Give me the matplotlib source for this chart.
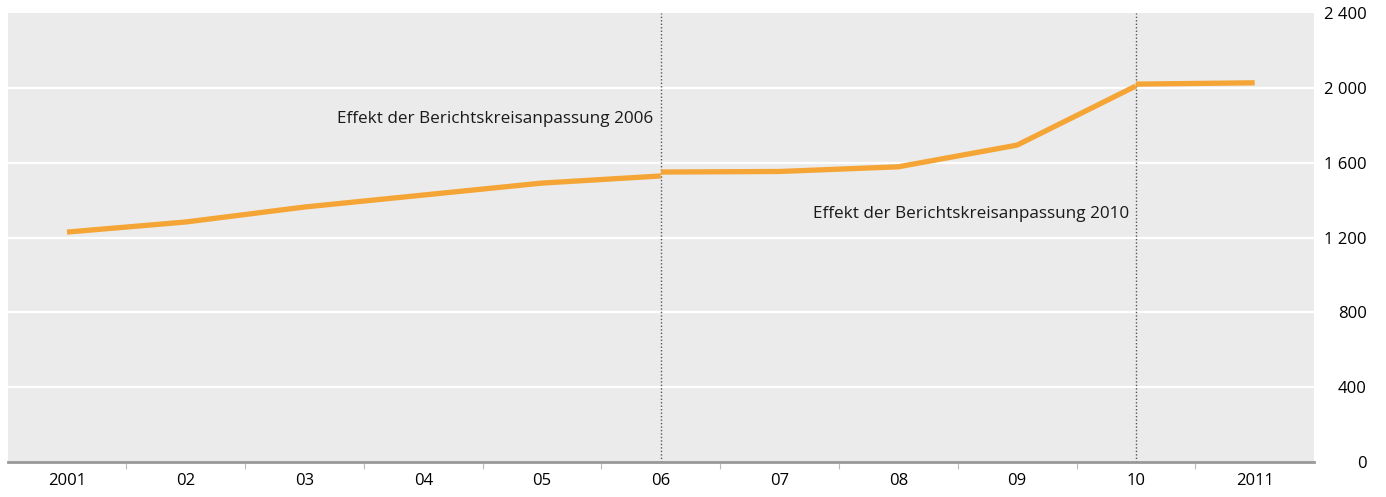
import matplotlib.pyplot as plt
from matplotlib.ticker import FuncFormatter, FixedLocator

plt.rcParams['font.family'] = ['Open Sans', 'DejaVu Sans']
plt.rcParams['font.size'] = 12

# Daten
labels = ['2001', '02', '03', '04', '05', '06', '07', '08', '09', '10', '2011']
seg1_x = [0, 1, 2, 3, 4, 5]
seg1_y = [1229, 1283, 1363, 1427, 1491, 1529]
seg2_x = [5, 6, 7, 8, 9]
seg2_y = [1550, 1553, 1578, 1694, 2010]
seg3_x = [9, 10]
seg3_y = [2020, 2027]
breaks = [5, 9]
notes = ['Effekt der Berichtskreisanpassung 2006', 'Effekt der Berichtskreisanpassung 2010']
note_y = [1835, 1325]

farbe = '#F4A535'

fig = plt.figure(figsize=(13.86, 4.97), dpi=100)
ax = fig.add_axes([0.0055, 0.0704, 0.9426, 0.9034])
ax.set_facecolor('#EBEBEB')

ax.set_xlim(-0.5, 10.5)
ax.set_ylim(0, 2400)

for y in [400, 800, 1200, 1600, 2000]:
    ax.axhline(y, color='white', linewidth=1.6, zorder=1)

for b in breaks:
    ax.axvline(b, color='#555555', linestyle=(0, (1, 1.5)), linewidth=1.0, zorder=2)

for xs, ys in [(seg1_x, seg1_y), (seg2_x, seg2_y), (seg3_x, seg3_y)]:
    ax.plot(xs, ys, color=farbe, linewidth=3.8, solid_capstyle='butt', zorder=3)

for b, t, y in zip(breaks, notes, note_y):
    ax.text(b - 0.06, y, t, ha='right', va='center', fontsize=12.3, color='#1a1a1a')

for s in ['top', 'left', 'right']:
    ax.spines[s].set_visible(False)
ax.spines['bottom'].set_color('#999999')
ax.spines['bottom'].set_linewidth(2)

ax.xaxis.set_major_locator(FixedLocator([i + 0.5 for i in range(10)]))
ax.xaxis.set_major_formatter(FuncFormatter(lambda v, p: ''))
ax.set_xticks(range(11), labels, minor=True)
ax.tick_params(axis='x', which='major', length=5, width=0.8, color='#BBBBBB')
ax.tick_params(axis='x', which='minor', length=0, pad=8, labelsize=12)

ax.yaxis.tick_right()
ax.set_yticks([0, 400, 800, 1200, 1600, 2000, 2400])
ax.yaxis.set_major_formatter(FuncFormatter(lambda v, p: f'{int(v):,}'.replace(',', ' ')))
ax.tick_params(axis='y', length=0, labelsize=12, pad=38)
for lab in ax.get_yticklabels():
    lab.set_horizontalalignment('right')

fig.savefig('out.png', dpi=100, facecolor='white')
